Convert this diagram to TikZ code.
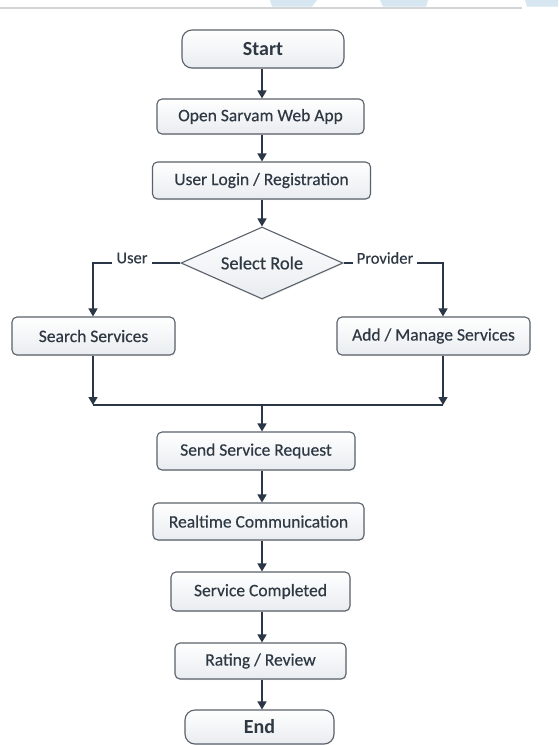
\documentclass[tikz,border=0pt]{standalone}
\usepackage{fontspec}
\setmainfont{Carlito}[UprightFeatures={FakeBold=0.4}]
\usetikzlibrary{arrows.meta,shapes.geometric,shadows}

\definecolor{boxline}{HTML}{5A616B}
\definecolor{boxfill}{HTML}{E9ECF0}
\definecolor{txt}{HTML}{2F3944}
\definecolor{flow}{HTML}{2B3747}
\definecolor{band}{HTML}{D6E7F1}
\definecolor{rule}{HTML}{D3D5D9}

\tikzset{
  box/.style={draw=boxline, line width=1.1pt, rounded corners=5pt,
    top color=white, bottom color=boxfill, text=txt, inner sep=0pt,
    font=\fontsize{17.5}{20}\selectfont,
    drop shadow={opacity=0.12, shadow xshift=0.6pt, shadow yshift=-1.2pt}},
  term/.style={box, rounded corners=10pt, font=\fontsize{20}{23}\selectfont\bfseries},
  decision/.style={diamond, draw=boxline, line width=1.1pt,
    top color=white, bottom color=boxfill, text=txt, inner sep=0pt,
    minimum width=162pt, minimum height=72pt, aspect=2.25,
    font=\fontsize{18.5}{21}\selectfont,
    drop shadow={opacity=0.12, shadow xshift=0.6pt, shadow yshift=-1.2pt}},
  lab/.style={text=txt, inner sep=4pt, font=\fontsize{16.5}{19}\selectfont},
  arr/.style={draw=flow, line width=1.5pt, -{Triangle[width=9pt,length=8pt]}},
  ln/.style={draw=flow, line width=1.5pt},
}

\begin{document}
\begin{tikzpicture}[x=1pt,y=-1pt]
  \useasboundingbox[fill=white] (0,0) rectangle (558,745);

  % header strip
  \fill[band] (270,0) -- (317,0) -- (312,6.5) -- (272,6.5) -- cycle;
  \fill[band] (380,0) -- (428,0) -- (426,6.5) -- (383,6.5) -- cycle;
  \fill[band] (525,0) -- (558,0) -- (558,6.5) -- (527,6.5) -- cycle;
  \draw[rule, line width=1.6pt] (0,8) -- (522,8);

  % spine of the main flow
  \coordinate (sp) at (262,0);

  % nodes
  \node[term, minimum width=162pt, minimum height=38pt] (start) at (263,49) {Start};
  \node[box, minimum width=207pt, minimum height=35pt] (open) at (260.5,116.5) {Open Sarvam Web App};
  \node[box, minimum width=218pt, minimum height=37pt] (login) at (261.5,180.5) {User Login / Registration};
  \node[decision] (role) at (262,263) {Select Role};
  \node[lab] (ulab) at (132,258) {User};
  \node[lab] (plab) at (385,258) {Provider};
  \node[box, minimum width=163pt, minimum height=38pt] (search) at (93.5,336) {Search Services};
  \node[box, minimum width=193pt, minimum height=38pt] (add) at (433.5,336) {Add / Manage Services};
  \coordinate (jl) at (93,405);
  \coordinate (jr) at (443,405);
  \node[box, minimum width=198pt, minimum height=38pt] (send) at (256,451) {Send Service Request};
  \node[box, minimum width=211pt, minimum height=37pt] (real) at (258.5,521.5) {Realtime Communication};
  \node[box, minimum width=179pt, minimum height=39pt] (done) at (260.5,591.5) {Service Completed};
  \node[box, minimum width=171pt, minimum height=36pt] (rate) at (260.5,661) {Rating / Review};
  \node[term, minimum width=149pt, minimum height=34pt] (end) at (259.5,727) {End};

  % connectors
  \draw[arr] (start.south -| sp) -- (open.north -| sp);
  \draw[arr] (open.south -| sp) -- (login.north -| sp);
  \draw[arr] (login.south -| sp) -- (role.north);

  \draw[ln] (role.west) -- (role.west -| ulab.east);
  \draw[arr] (role.west -| ulab.west) -| (search.north -| jl);
  \draw[ln] (role.east) -- (role.east -| plab.west);
  \draw[arr] (role.east -| plab.east) -| (add.north -| jr);

  \draw[arr] (search.south -| jl) -- (jl);
  \draw[arr] (add.south -| jr) -- (jr);
  \draw[ln] (jl) -- (jr);
  \draw[arr] (jl -| sp) -- (send.north -| sp);

  \draw[arr] (send.south -| sp) -- (real.north -| sp);
  \draw[arr] (real.south -| sp) -- (done.north -| sp);
  \draw[arr] (done.south -| sp) -- (rate.north -| sp);
  \draw[arr] (rate.south -| sp) -- (end.north -| sp);
\end{tikzpicture}
\end{document}
